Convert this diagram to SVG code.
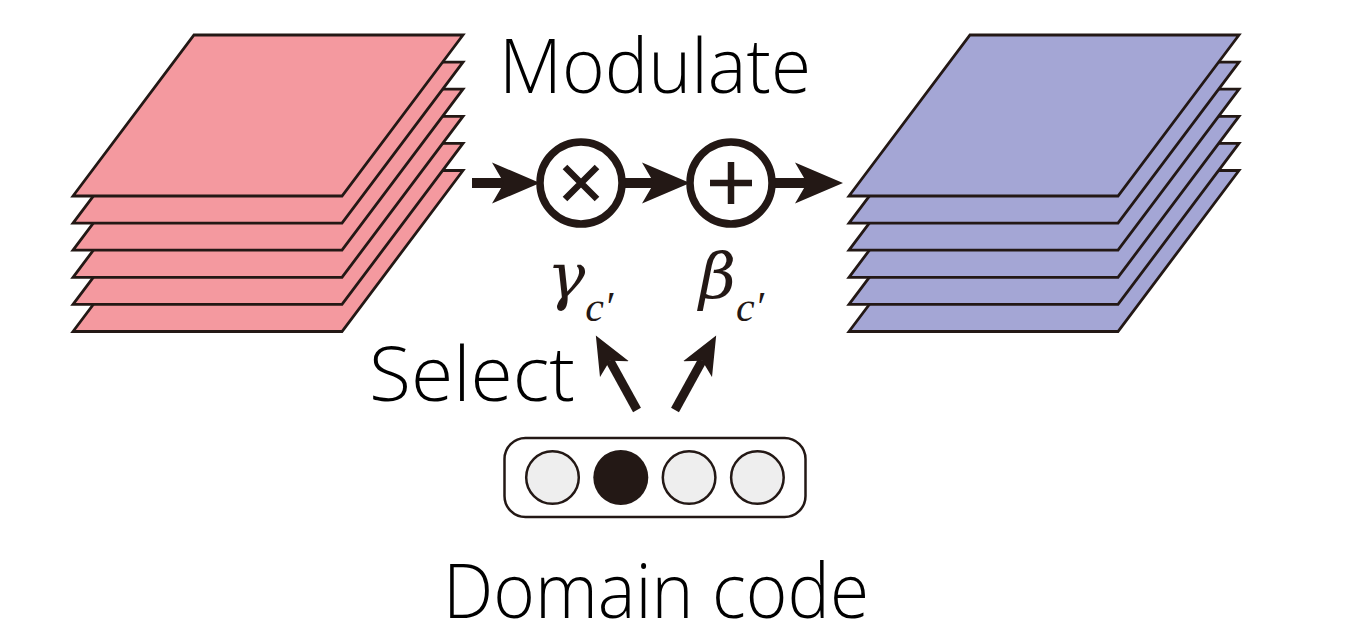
<svg xmlns="http://www.w3.org/2000/svg" xmlns:xlink="http://www.w3.org/1999/xlink" width="1348" height="622" viewBox="0 0 1348 622">
<style>
.lbl{font-family:"Open Sans","Noto Sans",sans-serif;font-weight:300;font-size:75px;fill:#000}
.math{font-family:"DejaVu Serif","Liberation Serif",serif;font-style:italic;fill:#231815}
.sub{font-family:"Liberation Serif","DejaVu Serif",serif;font-style:italic;font-size:42px}
.sheetR{fill:#F4999F;stroke:#231815;stroke-width:2.8;stroke-linejoin:miter}
.sheetB{fill:#A4A6D5;stroke:#231815;stroke-width:2.8;stroke-linejoin:miter}
.op{fill:#fff;stroke:#231815;stroke-width:7.5}
.sym{stroke:#231815;stroke-width:6.5;fill:none}
.conn{stroke:#231815;stroke-width:10;fill:none}
.dot{fill:#EEEEEE;stroke:#231815;stroke-width:2.5}
</style>
<defs>
<path id="sheet" d="M194,35 L463,35 L342,196 L73,196 Z"/>
<marker id="head" markerUnits="userSpaceOnUse" viewBox="0 -21 48 42" markerWidth="48" markerHeight="42" refX="12" refY="0" orient="auto">
<path d="M0,-20.5 L48,0 L0,20.5 L12,0 Z" fill="#231815"/>
</marker>
<marker id="headS" markerUnits="userSpaceOnUse" viewBox="0 -17 39 34" markerWidth="39" markerHeight="34" refX="9.6" refY="0" orient="auto">
<path d="M0,-16.5 L38.5,0 L0,16.5 L9.6,0 Z" fill="#231815"/>
</marker>
</defs>
<rect width="1348" height="622" fill="#fff"/>

<g id="input-stack">
<use xlink:href="#sheet" class="sheetR" transform="translate(0,135.5)"/>
<use xlink:href="#sheet" class="sheetR" transform="translate(0,108.4)"/>
<use xlink:href="#sheet" class="sheetR" transform="translate(0,81.3)"/>
<use xlink:href="#sheet" class="sheetR" transform="translate(0,54.2)"/>
<use xlink:href="#sheet" class="sheetR" transform="translate(0,27.1)"/>
<use xlink:href="#sheet" class="sheetR"/>
</g>

<g id="output-stack">
<use xlink:href="#sheet" class="sheetB" transform="translate(776,135.5)"/>
<use xlink:href="#sheet" class="sheetB" transform="translate(776,108.4)"/>
<use xlink:href="#sheet" class="sheetB" transform="translate(776,81.3)"/>
<use xlink:href="#sheet" class="sheetB" transform="translate(776,54.2)"/>
<use xlink:href="#sheet" class="sheetB" transform="translate(776,27.1)"/>
<use xlink:href="#sheet" class="sheetB" transform="translate(776,0)"/>
</g>

<g id="connectors">
<line class="conn" x1="472" y1="183" x2="504" y2="183" marker-end="url(#head)"/>
<line class="conn" x1="624" y1="183" x2="654" y2="183" marker-end="url(#head)"/>
<line class="conn" x1="774" y1="183" x2="807" y2="183" marker-end="url(#head)"/>
<line class="conn" x1="637" y1="410" x2="609.8" y2="360.7" marker-end="url(#headS)" style="stroke-width:9"/>
<line class="conn" x1="675" y1="410" x2="702.2" y2="360.7" marker-end="url(#headS)" style="stroke-width:9"/>
</g>

<g id="multiply">
<circle class="op" cx="581" cy="183" r="41"/>
<path class="sym" d="M565,167 L597,199 M597,167 L565,199"/>
</g>

<g id="add">
<circle class="op" cx="731" cy="183" r="41"/>
<path class="sym" d="M710,183 L752,183 M731,162 L731,204"/>
</g>

<g id="label-modulate">
<text class="lbl" x="499" y="92.7" textLength="312" lengthAdjust="spacingAndGlyphs">Modulate</text>
</g>

<g id="gamma">
<text class="math" x="547" y="298" font-size="64">γ<tspan class="sub" dy="23">c′</tspan></text>
</g>
<g id="beta">
<text class="math" x="699" y="298" font-size="64">β<tspan class="sub" dy="23">c′</tspan></text>
</g>

<g id="label-select">
<text class="lbl" x="369" y="400.7" textLength="206" lengthAdjust="spacingAndGlyphs">Select</text>
</g>

<g id="domain-code">
<rect x="504.5" y="438" width="301" height="79" rx="21" fill="#fff" stroke="#231815" stroke-width="2.5"/>
<circle class="dot" cx="552.5" cy="477.5" r="26.3"/>
<circle cx="620.8" cy="477.5" r="27.5" fill="#231815"/>
<circle class="dot" cx="689.1" cy="477.5" r="26.3"/>
<circle class="dot" cx="757.4" cy="477.5" r="26.3"/>
</g>

<g id="label-domain">
<text class="lbl" x="443" y="618" textLength="426" lengthAdjust="spacingAndGlyphs">Domain code</text>
</g>
</svg>
